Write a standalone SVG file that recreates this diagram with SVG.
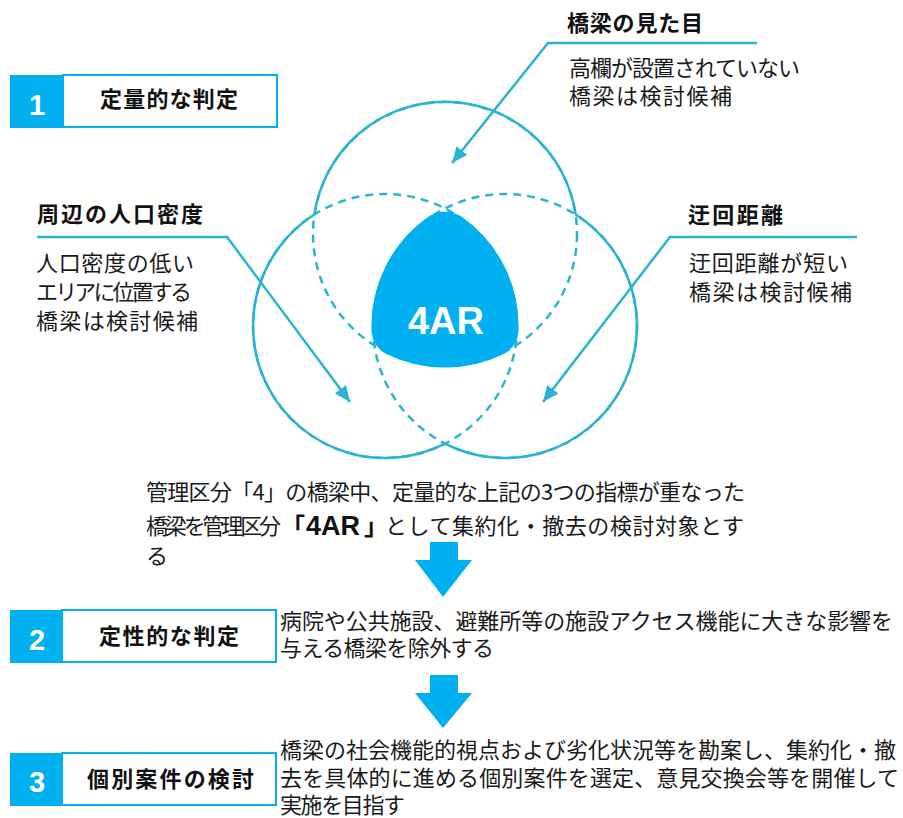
<svg xmlns="http://www.w3.org/2000/svg" width="903" height="818" viewBox="0 0 903 818">
<defs>
<style>
.jp{font-family:"Noto Sans CJK JP","Noto Sans CJK SC",sans-serif;font-size:22px;fill:#1a1a1a}
.jpb{font-family:"Noto Sans CJK JP","Noto Sans CJK SC",sans-serif;font-size:22px;font-weight:bold;fill:#111}
.num{font-family:"Liberation Sans",Arial,sans-serif;font-size:29px;font-weight:bold;fill:#fff;text-anchor:middle}
.solid{fill:none;stroke:#2AB3D2;stroke-width:2.5}
.dash{fill:none;stroke:#2AB3D2;stroke-width:2.5;stroke-dasharray:8 6}
.lead{fill:none;stroke:#2AB3D2;stroke-width:2.5}
.boxw{fill:#fff;stroke:#00B0F0;stroke-width:2}
.boxb{fill:#00B0F0}
.big{fill:#00B0F0}
</style>
<marker id="ah" viewBox="0 0 16 14" refX="16" refY="7" markerWidth="16" markerHeight="14" markerUnits="userSpaceOnUse" orient="auto">
<path d="M0,0 L16,7 L0,14 z" fill="#2AB3D2"/>
</marker>
</defs>
<rect width="903" height="818" fill="#fff"/>

<g id="venn">
<circle class="dash" cx="445" cy="234" r="132"/>
<circle class="dash" cx="385" cy="326" r="132"/>
<circle class="dash" cx="505" cy="326" r="132"/>
<path class="solid" d="M314.4,214.5 A132,132 0 0,1 575.6,214.5"/>
<path class="solid" d="M314.4,214.5 A132,132 0 0,0 445,443.6"/>
<path class="solid" d="M575.6,214.5 A132,132 0 0,1 445,443.6"/>
</g>

<g id="core-4AR">
<path d="M460.7,217.9 A132,132 0 0,1 516.9,331.8 Q515.6,345.5 503.5,352.3 A132,132 0 0,1 386.5,352.3 Q374.4,345.5 373.1,331.8 A132,132 0 0,1 429.3,217.9 Q445,208.4 460.7,217.9 Z" fill="#00B0F0" stroke="#00B0F0" stroke-width="3" stroke-linejoin="round"/>
<text x="446" y="334" text-anchor="middle" font-family="Liberation Sans,Arial,sans-serif" font-size="38" font-weight="bold" fill="#fff">4AR</text>
</g>

<g id="connectors">
<polyline class="lead" points="757,43 548,43 452,163" marker-end="url(#ah)"/>
<polyline class="lead" points="37,237 227,237 350,402" marker-end="url(#ah)"/>
<polyline class="lead" points="857,237 670,237 543,402" marker-end="url(#ah)"/>
<path class="big" d="M430,542 H458 V560 H472 L443,597 L415,560 H430 Z"/>
<path class="big" d="M430,675 H458 V693 H472 L443,728 L415,693 H430 Z"/>
</g>

<g id="label-appearance">
<text class="jpb" x="567" y="31" textLength="136">橋梁の見た目</text>
<text class="jp" x="569" y="76" textLength="231">高欄が設置されていない</text>
<text class="jp" x="569" y="104" textLength="163">橋梁は検討候補</text>
</g>

<g id="label-density">
<text class="jpb" x="37" y="222" textLength="166">周辺の人口密度</text>
<text class="jp" x="36" y="271" textLength="158">人口密度の低い</text>
<text class="jp" x="36" y="300" textLength="156">エリアに位置する</text>
<text class="jp" x="36" y="329" textLength="162">橋梁は検討候補</text>
</g>

<g id="label-detour">
<text class="jpb" x="688" y="223" textLength="95">迂回距離</text>
<text class="jp" x="689" y="271" textLength="159">迂回距離が短い</text>
<text class="jp" x="689" y="300" textLength="163">橋梁は検討候補</text>
</g>

<g id="summary">
<text class="jp" x="146" y="500" textLength="599">管理区分「4」の橋梁中、定量的な上記の3つの指標が重なった</text>
<text class="jp" x="146" y="534" textLength="135">橋梁を管理区分</text>
<text x="281" y="535" font-family="Noto Sans CJK JP,Noto Sans CJK SC,sans-serif" font-size="24" font-weight="bold" fill="#111">「</text>
<text x="306" y="535" font-family="Liberation Sans,Arial,sans-serif" font-size="27" font-weight="bold" fill="#111">4AR</text>
<text x="364" y="535" font-family="Noto Sans CJK JP,Noto Sans CJK SC,sans-serif" font-size="24" font-weight="bold" fill="#111">」</text>
<text class="jp" x="385" y="534" textLength="359">として集約化・撤去の検討対象とす</text>
<text class="jp" x="146" y="564">る</text>
</g>

<g id="step1">
<rect class="boxw" x="63" y="75" width="214" height="52"/>
<rect class="boxb" x="10" y="75" width="53" height="53"/>
<text class="num" x="37" y="115">1</text>
<text class="jpb" x="100" y="107" textLength="138">定量的な判定</text>
</g>

<g id="step2">
<rect class="boxw" x="62" y="610" width="214" height="52"/>
<rect class="boxb" x="10" y="610" width="52" height="53"/>
<text class="num" x="37" y="650">2</text>
<text class="jpb" x="99" y="644" textLength="140">定性的な判定</text>
<text class="jp" x="280" y="629" textLength="613">病院や公共施設、避難所等の施設アクセス機能に大きな影響を</text>
<text class="jp" x="280" y="656" textLength="214">与える橋梁を除外する</text>
</g>

<g id="step3">
<rect class="boxw" x="62" y="753" width="214" height="52"/>
<rect class="boxb" x="10" y="753" width="52" height="53"/>
<text class="num" x="37" y="792">3</text>
<text class="jpb" x="87" y="787" textLength="167">個別案件の検討</text>
<text class="jp" x="280" y="758" textLength="616">橋梁の社会機能的視点および劣化状況等を勘案し、集約化・撤</text>
<text class="jp" x="280" y="786" textLength="619">去を具体的に進める個別案件を選定、意見交換会等を開催して</text>
<text class="jp" x="280" y="813" textLength="125">実施を目指す</text>
</g>
</svg>
